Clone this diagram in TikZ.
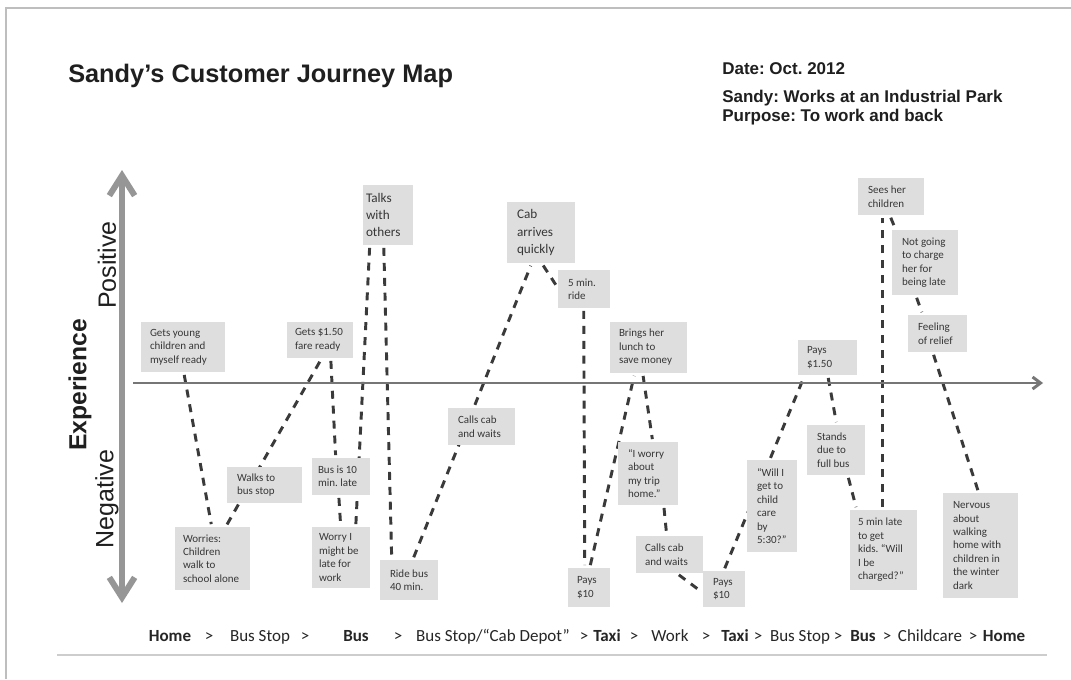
\documentclass[tikz,border=0pt]{standalone}
\usepackage{fontspec}
\setmainfont{Carlito}
\newfontfamily\headfont{Liberation Sans}
\usetikzlibrary{arrows.meta,calc}
\frenchspacing
\definecolor{boxgray}{RGB}{222,222,222}
\definecolor{txtgray}{RGB}{55,55,55}
\definecolor{linkgray}{RGB}{58,58,58}
\definecolor{axisv}{RGB}{150,150,150}
\definecolor{axish}{RGB}{118,118,118}
\definecolor{framegray}{RGB}{190,190,190}
\definecolor{rulegray}{RGB}{205,205,205}
\pgfdeclarelayer{paper}
\pgfdeclarelayer{links}
\pgfsetlayers{paper,links,main}

% one journey step: filled box plus left-aligned caption
% #1 name, #2-#5 box corners (x1,y1,x2,y2), #6 left padding, #7 extra text style, #8 text
\newcommand\jstep[8]{%
  \node[jbox, minimum width={(#4-#2)*0.75pt}, minimum height={(#5-#3)*0.75pt}]
    (#1) at ({(#2+#4)/2},{(#3+#5)/2}) {};
  \node[jtxt, #7, anchor=west] (#1-t) at ($(#1.west)+(#6,0)$) {#8};
}

\begin{document}
\begin{tikzpicture}[x=0.75pt,y=-0.75pt,
  jbox/.style={fill=boxgray, draw=none, inner sep=0pt},
  jtxt/.style={align=left, inner sep=0pt, text=txtgray,
    font=\fontsize{8.25pt}{10.1pt}\selectfont},
  jmid/.style={font=\fontsize{9.9pt}{13pt}\selectfont},
  link/.style={draw=linkgray, line width=2.2pt, dash pattern=on 6pt off 5.2pt,
    shorten <=2pt, shorten >=2pt},
  route/.style={anchor=base, inner sep=0pt, text=black!85,
    font=\fontsize{12.75pt}{15pt}\selectfont},
  routeb/.style={route, font=\fontsize{12.75pt}{15pt}\selectfont\bfseries},
  head/.style={anchor=base west, inner sep=0pt, text=black!88,
    font=\headfont\bfseries\fontsize{12.75pt}{15pt}\selectfont},
  axlabel/.style={rotate=90, inner sep=0pt, text=black!88,
    font=\headfont\fontsize{18.75pt}{22pt}\selectfont},
]
% page
\begin{pgfonlayer}{paper}
\fill[white] (0,0) rectangle (1071,679);
\end{pgfonlayer}
\useasboundingbox (0,0) rectangle (1071,679);
\draw[framegray, line width=1.1pt] (6,679) -- (6,8) -- (1071,8);
\draw[rulegray, line width=1.5pt] (57,655) -- (1047,655);

% headings
\node[head, font=\headfont\bfseries\fontsize{19pt}{22pt}\selectfont] (title) at (68,82)
  {Sandy’s Customer Journey Map};
\node[head] (date) at (722,74) {Date: Oct. 2012};
\node[head] (who) at (722,102) {Sandy: Works at an Industrial Park};
\node[head] (why) at (722,121) {Purpose: To work and back};

% axes
\coordinate (vtop) at (122,170);
\coordinate (vbot) at (122,603);
\coordinate (hleft) at (133,383);
\coordinate (hright) at (1043,383);
\draw[axisv, line width=4.5pt,
  {Straight Barb[length=15pt,width=19pt]}-{Straight Barb[length=15pt,width=19pt]}]
  (vtop) -- (vbot);
\draw[axish, line width=2.2pt, -{Straight Barb[length=6pt,width=9pt]}] (hleft) -- (hright);
\node[axlabel, font=\headfont\bfseries\fontsize{18.5pt}{22pt}\selectfont] (exp) at (80,385) {Experience};
\node[axlabel] (pos) at (107,265) {Positive};
\node[axlabel] (neg) at (107,499) {Negative};

% journey steps
\jstep{b1}{141}{322}{225}{372}{9}{}{Gets young\\children and\\myself ready}
\jstep{b2}{287}{322}{353}{358}{8}{}{Gets \$1.50\\fare ready}
\jstep{b3}{227}{467}{302}{503}{10}{}{Walks to\\bus stop}
\jstep{b4}{175}{527}{250}{590}{8}{}{Worries:\\Children\\walk to\\school alone}
\jstep{b5}{312}{458}{370}{495}{6}{}{Bus is 10\\min. late}
\jstep{b6}{312}{527}{370}{588}{7}{}{Worry I\\might be\\late for\\work}
\jstep{b7}{363}{185}{413}{245}{3}{jmid}{Talks\\with\\others}
\jstep{b8}{380}{560}{438}{600}{10}{}{Ride bus\\40 min.}
\jstep{b9}{448}{408}{515}{445}{10}{}{Calls cab\\and waits}
\jstep{b10}{507}{202}{575}{263}{10}{jmid}{Cab\\arrives\\quickly}
\jstep{b11}{558}{270}{610}{308}{10}{}{5 min.\\ride}
\jstep{b12}{568}{568}{610}{607}{9}{}{Pays\\\$10}
\jstep{b13}{610}{322}{687}{373}{9}{}{Brings her\\lunch to\\save money}
\jstep{b14}{618}{442}{678}{505}{10}{}{“I worry\\about\\my trip\\home.”}
\jstep{b15}{636}{536}{703}{573}{9}{}{Calls cab\\and waits}
\jstep{b16}{703}{571}{745}{607}{10}{}{Pays\\\$10}
\jstep{b17}{747}{460}{797}{552}{10}{}{“Will I\\get to\\child\\care\\by\\5:30?”}
\jstep{b18}{798}{340}{857}{375}{9}{}{Pays\\\$1.50}
\jstep{b19}{807}{425}{865}{475}{10}{}{Stands\\due to\\full bus}
\jstep{b20}{850}{510}{917}{590}{8}{}{5 min late\\to get\\kids. “Will\\I be\\charged?”}
\jstep{b21}{858}{178}{924}{215}{10}{}{Sees her\\children}
\jstep{b22}{892}{230}{958}{295}{10}{}{Not going\\to charge\\her for\\being late}
\jstep{b23}{908}{315}{967}{352}{10}{}{Feeling\\of relief}
\jstep{b24}{943}{493}{1018}{598}{10}{}{Nervous\\about\\walking\\home with\\children in\\the winter\\dark}

% dashed path of the journey, running behind the boxes
\begin{pgfonlayer}{links}
\draw[link] ($(b1.south west)+(43,0)$) -- ($(b4.north west)+(37,0)$);
\draw[link] ($(b4.north west)+(51,0)$) -- ($(b2.south west)+(35,0)$);
\draw[link] ($(b2.south west)+(44,0)$) -- ($(b5.north west)+(24,0)$);
\draw[link] ($(b5.south west)+(27,0)$) -- ($(b6.north west)+(29,0)$);
\draw[link] ($(b6.north west)+(44,0)$) -- ($(b7.south west)+(7,0)$);
\draw[link] ($(b7.south west)+(21,0)$) -- ($(b8.north west)+(12,0)$);
\draw[link] ($(b8.north west)+(33,0)$) -- ($(b10.south west)+(25,0)$);
\draw[link] ($(b10.south west)+(35,0)$) -- ($(b11.north west)+(0,18)$);
\draw[link] ($(b11.south west)+(26,0)$) -- ($(b12.north west)+(17,0)$);
\draw[link] ($(b12.north west)+(22,0)$) -- ($(b13.south west)+(25,0)$);
\draw[link] ($(b13.south west)+(33,0)$) -- ($(b14.north west)+(35,0)$);
\draw[link] ($(b14.south west)+(46,0)$) -- ($(b15.north west)+(31,0)$);
\draw[link] ($(b15.south west)+(41,0)$) -- ($(b16.north west)+(0,22)$);
\draw[link] ($(b16.north west)+(21,0)$) -- ($(b18.south west)+(7,0)$);
\draw[link] ($(b18.south west)+(30,0)$) -- ($(b19.north west)+(30,0)$);
\draw[link] ($(b19.south west)+(41,0)$) -- ($(b20.north west)+(7,0)$);
\draw[link] ($(b20.north west)+(33,0)$) -- ($(b21.south west)+(25,0)$);
\draw[link] ($(b21.south west)+(32,0)$) -- ($(b22.north west)+(4,0)$);
\draw[link] ($(b22.south west)+(24,0)$) -- ($(b23.north west)+(15,0)$);
\draw[link] ($(b23.south west)+(25,0)$) -- ($(b24.north west)+(36,0)$);
\end{pgfonlayer}

% route along the bottom
\node[routeb] (r1) at (170,641) {Home};
\node[route] (r2) at (209,641) {>};
\node[route] (r3) at (260,641) {Bus Stop};
\node[route] (r4) at (305,641) {>};
\node[routeb] (r5) at (356,641) {Bus};
\node[route] (r6) at (398,641) {>};
\node[route] (r7) at (493,641) {Bus Stop/“Cab Depot”};
\node[route] (r8) at (584,641) {>};
\node[routeb] (r9) at (607,641) {Taxi};
\node[route] (r10) at (634,641) {>};
\node[route] (r11) at (670,641) {Work};
\node[route] (r12) at (706,641) {>};
\node[routeb] (r13) at (735,641) {Taxi};
\node[route] (r14) at (758,641) {>};
\node[route] (r15) at (800,641) {Bus Stop};
\node[route] (r16) at (838,641) {>};
\node[routeb] (r17) at (863,641) {Bus};
\node[route] (r18) at (887,641) {>};
\node[route] (r19) at (930,641) {Childcare};
\node[route] (r20) at (973,641) {>};
\node[routeb] (r21) at (1004,641) {Home};
\end{tikzpicture}
\end{document}
